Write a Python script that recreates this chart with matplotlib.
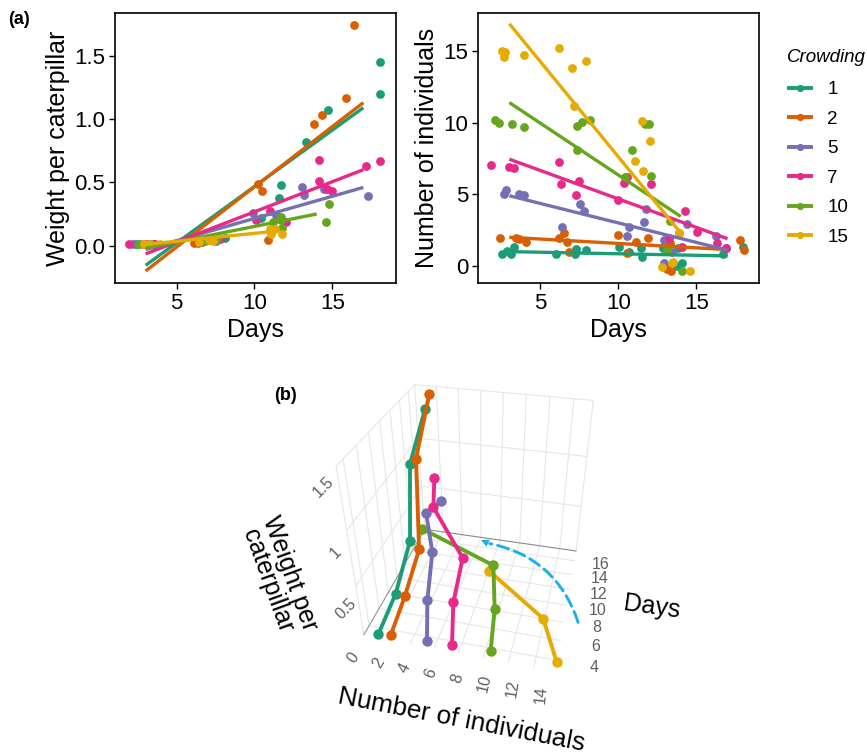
import numpy as np
import matplotlib
matplotlib.use('Agg')
import matplotlib.pyplot as plt
from matplotlib.lines import Line2D
from matplotlib.patches import FancyArrowPatch
from mpl_toolkits.mplot3d import proj3d

plt.rcParams['font.family'] = ['Liberation Sans', 'DejaVu Sans']

crowding = ['1', '2', '5', '7', '10', '15']
colors = ['#1B9E77', '#D95F02', '#7570B3', '#E7298A', '#66A61E', '#E6AB02']

# Panel (a): weight per caterpillar
wx1 = [2.4, 2.6, 3.4, 8.1, 10.4, 11.6, 11.7, 13.3, 14.7, 18.1, 18.1]
wy1 = [.01, .01, .01, .06, .22, .38, .48, .82, 1.07, 1.45, 1.2]
wx2 = [2.9, 3.3, 6.1, 6.35, 10.25, 10.5, 10.85, 13.8, 14.36, 15.9, 16.4]
wy2 = [.01, .01, .02, .02, .49, .43, .045, .96, 1.03, 1.17, 1.74]
wx5 = [2.2, 3.0, 3.5, 6.6, 7.5, 9.9, 11.4, 13.07, 13.18, 14.46, 17.3]
wy5 = [.01, .01, .01, .03, .04, .255, .24, .46, .40, .45, .395]
wx7 = [1.9, 2.9, 3.6, 6.5, 7.8, 10.1, 11, 12, 14.14, 14.14, 14.64, 15, 17.2, 18.04]
wy7 = [.01, .01, .01, .03, .05, .2, .27, .19, .68, .51, .445, .43, .63, .67]
wx10 = [2.6, 3.2, 6.8, 7.6, 11.2, 11.7, 11.7, 11.8, 14.6, 14.8]
wy10 = [.01, .01, .04, .05, .19, .23, .2, .14, .19, .33]
wx15 = [2.9, 3.3, 3.9, 6.4, 7.1, 7.35, 11, 11.35, 11.05, 11.8]
wy15 = [.01, .01, .01, .03, .045, .035, .135, .13, .09, .09]
weight_x = [wx1, wx2, wx5, wx7, wx10, wx15]
weight_y = [wy1, wy2, wy5, wy7, wy10, wy15]
wfit_x = [[3, 17], [3, 17], [3, 17], [3, 17], [3, 14], [3, 11]]
wfit_y = [[-.155, 1.09], [-.2, 1.13], [-.03, .46], [-.065, .6], [-.02, .25], [.01, .11]]

# Panel (a): number of individuals
nx1 = [2.52, 2.84, 3.1, 3.27, 5.98, 7.2, 7.27, 7.93, 10.02, 10.7, 11.45, 11.5, 12.88, 13.78, 14.06, 13.85, 16.7, 17.97]
ny1 = [.8, 1.07, .8, 1.35, .86, .86, 1.2, 1.1, 1.35, .98, 1.23, .63, 1.23, .02, .23, 1.28, .84, 1.3]
nx2 = [2.41, 3.42, 3.63, 4.08, 6.18, 6.52, 6.69, 6.8, 9.96, 10.53, 11.11, 11.88, 13.1, 13.35, 13.3, 13.89, 17.8, 18.06]
ny2 = [1.98, 1.93, 1.88, 1.65, 1.98, 2.33, 1.7, 1.0, 2.19, .88, 1.7, 1.95, -.23, -.37, 1.58, 2.28, 1.84, 1.09]
nx5 = [2.63, 2.8, 3.65, 3.97, 6.37, 7.56, 7.8, 10.53, 10.7, 11.62, 11.77, 12.95, 12.9, 13.46, 14.42, 16.24, 16.88]
ny5 = [5, 5.3, 5.05, 4.93, 2.72, 4.33, 3.84, 2.12, 2.72, 3.07, 3.98, 1.79, .19, 1, 2.95, 2.12, 1.23]
nx7 = [1.8, 3, 3.27, 6.2, 6.32, 7.44, 7.27, 10, 10.36, 10.56, 12.09, 13.27, 14.08, 14.25, 15.02, 16.3, 16.9]
ny7 = [7.05, 6.88, 6.81, 7.23, 5.74, 5.93, 4.95, 4.58, 5.79, 6.21, 5.7, 1.93, 1.35, 3.86, 2.35, 1.6, 1.28]
nx10 = [2.1, 2.31, 3.18, 3.91, 7.37, 7.69, 8.2, 7.33, 10.85, 10.4, 11.7, 11.99, 12.09, 13.31, 13.1, 14.1]
ny10 = [10.19, 9.95, 9.9, 9.7, 9.77, 10.02, 10.2, 8.09, 8.12, 6.2, 9.88, 9.88, 6.3, 3.14, 1.12, -.33]
nx15 = [2.52, 2.74, 2.63, 3.91, 6.2, 7.05, 7.9, 7.18, 11.07, 11.5, 11.56, 12.03, 13.89, 12.82, 13.53, 13.46, 14.6]
ny15 = [15.02, 14.95, 14.6, 14.7, 15.23, 13.81, 14.3, 11.14, 7.3, 10.14, 6.65, 8.7, 2.33, -.05, .3, .19, -.33]
number_x = [nx1, nx2, nx5, nx7, nx10, nx15]
number_y = [ny1, ny2, ny5, ny7, ny10, ny15]
nfit_x = [[3, 17], [3, 17], [3, 17], [3, 17], [3, 14], [3, 14]]
nfit_y = [[1.0, .7], [2.0, 1.14], [4.9, 1.1], [7.45, 1.9], [11.4, 3.45], [16.9, 2.3]]

# Panel (b): group means
days3d = [[3, 7, 11, 14, 17], [3, 7, 11, 14, 17], [3, 7, 11, 14, 17], [3, 7, 11, 14, 17], [3, 7, 11, 14], [3, 7, 11]]
num3d = [[1.32, 1.21, 1.17, .47, 1.03], [2.38, 2.04, 1.97, 1.08, 1.51], [5.44, 4.07, 3.22, 1.67, 2.07],
         [7.5, 6.38, 6.05, 2.42, 1.55], [10.59, 9.94, 8.85, 1.12], [15.67, 14.0, 8.49]]
wgt3d = [[.04, .10, .35, .93, 1.31], [.05, .09, .27, .99, 1.45], [.06, .09, .26, .45, .39],
         [.07, .11, .25, .52, .64], [.08, .11, .22, .27], [.09, .10, .15]]
ticks_n = [0, 2, 4, 6, 8, 10, 12, 14]
ticks_d = [4, 6, 8, 10, 12, 14, 16]
ticks_w = [0.5, 1, 1.5]

W, H = 867, 754
fig = plt.figure(figsize=(W / 100, H / 100), dpi=100)


def box(l, t, r, b):
    return [l / W, 1 - b / H, (r - l) / W, (b - t) / H]


def panel(rect, xs, ys, fx, fy, xlim, ylim, yt, ylab):
    ax = fig.add_axes(box(*rect))
    for i, c in enumerate(colors):
        ax.scatter(xs[i], ys[i], s=40, color=c, lw=0, zorder=3)
    for i, c in enumerate(colors):
        ax.plot(fx[i], fy[i], color=c, lw=2.4, solid_capstyle='butt', zorder=4)
    ax.set_xlim(xlim)
    ax.set_ylim(ylim)
    ax.set_xticks([5, 10, 15])
    ax.set_yticks(yt)
    ax.tick_params(labelsize=16, length=4, width=1, pad=3)
    for s in ax.spines.values():
        s.set_linewidth(1.2)
    ax.set_xlabel('Days', fontsize=18, labelpad=3)
    ax.set_ylabel(ylab, fontsize=18, labelpad=3)
    return ax


axa = panel((115, 13, 396, 283), weight_x, weight_y, wfit_x, wfit_y, (1.03, 19.1), (-.295, 1.838),
            [0, .5, 1, 1.5], 'Weight per caterpillar')
axa.set_yticklabels(['0.0', '0.5', '1.0', '1.5'])
panel((478, 13, 759, 283), number_x, number_y, nfit_x, nfit_y, (.99, 19.02), (-1.19, 17.65),
      [0, 5, 10, 15], 'Number of individuals')

handles = [Line2D([], [], color=c, lw=2.8, marker='o', ms=5.2, mew=0, solid_capstyle='butt') for c in colors]
leg = fig.legend(handles, crowding, loc='upper left', bbox_to_anchor=(787 / W, 1 - 49 / H), frameon=False,
                 fontsize=13.5, title='Crowding', title_fontproperties={'style': 'italic', 'size': 13.5},
                 handlelength=1.4, handletextpad=.75, labelspacing=.66, borderpad=0, borderaxespad=0)
leg._legend_box.align = 'left'
leg._legend_box.sep = 11

fig.text(8 / W, 1 - 20 / H, '(a)', fontsize=13, fontweight='bold', va='center')
fig.text(274 / W, 1 - 395 / H, '(b)', fontsize=13, fontweight='bold', va='center')

# Panel (b)
ax3 = fig.add_axes(box(213.2, 296.7, 733.4, 749.1), projection='3d', computed_zorder=False)
ax3.patch.set_alpha(0)
ax3.set_proj_type('persp', focal_length=.229)
ax3.view_init(elev=33.665, azim=-75.816, roll=.255)
ax3.set_box_aspect((1.15, 1.138, 1.148), zoom=.704)
N = (0, 15.6)
D = (3, 17.5)
Z = (0, 1.5)
ax3.set_xlim(N, view_margin=0)
ax3.set_ylim(D, view_margin=0)
ax3.set_zlim(Z, view_margin=0)
ax3.set_xticks([])
ax3.set_yticks([])
ax3.set_zticks([])
ax3.grid(False)
for axis in (ax3.xaxis, ax3.yaxis, ax3.zaxis):
    axis.set_pane_color((1, 1, 1, 0))
    axis.pane.set_edgecolor((1, 1, 1, 0))
    axis.line.set_color((1, 1, 1, 0))

g = dict(color='#E6E6E6', lw=.8)
for t in ticks_n:
    ax3.plot([t, t], D, [0, 0], **g)
    ax3.plot([t, t], [D[1], D[1]], Z, **g)
for t in ticks_d:
    ax3.plot(N, [t, t], [0, 0], **g)
    ax3.plot([0, 0], [t, t], Z, **g)
for t in ticks_w:
    ax3.plot(N, [D[1], D[1]], [t, t], **g)
    ax3.plot([0, 0], D, [t, t], **g)
ax3.plot([N[1], N[1]], [D[1], D[1]], Z, **g)
ax3.plot([0, 0], [D[0], D[0]], Z, **g)
ax3.plot(N, [D[1], D[1]], [0, 0], color='#8a8a8a', lw=.8)
ax3.plot([0, 0], D, [0, 0], color='#9a9a9a', lw=.8)
for i in [5, 4, 0, 1, 2, 3]:
    ax3.plot(num3d[i], days3d[i], wgt3d[i], color=colors[i], lw=2.8, marker='o', ms=7.5, mew=0)

ax3.apply_aspect()
M3 = ax3.get_proj()


def label3d(x, y, z, s, rot=0):
    px, py, _ = proj3d.proj_transform(x, y, z, M3)
    ax3.text2D(px, py, s, rotation=rot, rotation_mode='anchor', transform=ax3.transData, color='#5f5f5f',
               fontsize=11.5, ha='center', va='center')


for k, t in enumerate(ticks_n):
    label3d(t * 1.05 + .2, D[0] - 2.3, 0, str(t), 55 + 30 * k / 7)
for t in ticks_d:
    label3d(N[1] + 2.85 - .03 * (t - 4), t, 0, str(t))
for t in ticks_w:
    label3d(-1.2, D[0], 1.088 * t - .3, str(t), 45)

fig.text(462 / W, 1 - 720 / H, 'Number of individuals', fontsize=18.8, rotation=-11, ha='center', va='center')
fig.text(652 / W, 1 - 607 / H, 'Days', fontsize=18, rotation=-8, ha='center', va='center')
fig.text(279 / W, 1 - 577 / H, 'Weight per\ncaterpillar', fontsize=18, rotation=-70, ha='center', va='center',
         linespacing=1.0, rotation_mode='anchor')

arc = FancyArrowPatch((579, H - 625), (487, H - 543), transform=None, arrowstyle='-', connectionstyle='arc3,rad=0.3',
                      color='#1CB0E8', lw=2.1, linestyle=(0, (4, 2)))
fig.add_artist(arc)
head = FancyArrowPatch((492, H - 545), (481, H - 540), transform=None, arrowstyle='-|>', mutation_scale=14,
                       color='#1CB0E8', lw=0, shrinkA=0, shrinkB=0)
fig.add_artist(head)

fig.savefig('out.png', dpi=100)
